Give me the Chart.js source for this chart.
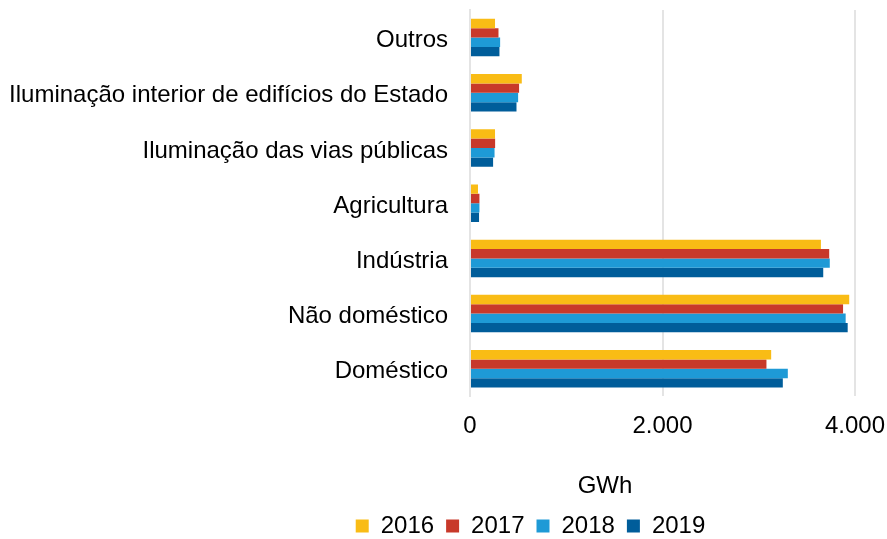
<!DOCTYPE html>
<html>
<head>
<meta charset="utf-8">
<script src="https://cdn.jsdelivr.net/npm/chart.js@4/dist/chart.umd.min.js"></script>
<style>
  html, body { margin: 0; padding: 0; background: #fff; }
  #wrap { width: 887px; height: 539px; }
</style>
</head>
<body>
<div id="wrap"><canvas id="chartConsumo" width="887" height="539"></canvas></div>
<script>
const categories = ['Outros', 'Iluminação interior de edifícios do Estado', 'Iluminação das vias públicas',
  'Agricultura', 'Indústria', 'Não doméstico', 'Doméstico'];
const years = ['2016', '2017', '2018', '2019'];
const values2016 = [260, 538, 260, 83, 3646, 3940, 3129];
const values2017 = [296, 510, 261, 98, 3732, 3876, 3080];
const values2018 = [313, 500, 255, 98, 3738, 3903, 3302];
const values2019 = [306, 483, 240, 94, 3670, 3924, 3250];
const colors = ['#F9BC15', '#C8392A', '#1E9AD6', '#005D9A'];
const xTicks = [0, 2000, 4000];

const FONT = "'Liberation Sans', Arial, sans-serif";
const formatPt = v => String(v).replace(/\B(?=(\d{3})+(?!\d))/g, '.');

// Excel places the axis title and legend off-centre; nudge them after layout
const shiftBoxes = {
  id: 'shiftBoxes',
  afterLayout(chart) {
    const t = chart.titleBlock;
    if (t) {
      const half = (t.right - t.left) / 2;
      t.left = 605 - half; t.right = 605 + half;
      t.top += 11; t.bottom += 11;
    }
    const l = chart.legend;
    if (l) {
      l.left += 98; l.right += 98;
      l.top += 9; l.bottom += 9;
    }
  }
};

const seriesValues = [values2016, values2017, values2018, values2019];
const context = document.getElementById('chartConsumo').getContext('2d');
const chart = new Chart(context, {
  type: 'bar',
  data: {
    labels: categories,
    datasets: years.map((year, i) => ({
      label: year,
      data: seriesValues[i],
      backgroundColor: colors[i],
      borderWidth: 0,
      barPercentage: 1,
      categoryPercentage: 0.68
    }))
  },
  options: {
    indexAxis: 'y',
    responsive: false,
    animation: false,
    layout: { padding: { top: 10, left: 10, right: 32, bottom: 0 } },
    scales: {
      x: {
        min: 0,
        max: 4000,
        afterBuildTicks: scale => { scale.ticks = xTicks.map(v => ({ value: v })); },
        afterFit: scale => { scale.paddingLeft = 0; scale.paddingRight = 0; },
        grid: { color: '#e4e4e4', lineWidth: 2, drawTicks: false },
        border: { display: false },
        ticks: {
          padding: 16,
          color: '#000',
          font: { family: FONT, size: 24 },
          callback: v => formatPt(v)
        }
      },
      y: {
        afterFit: scale => {
          scale.width = 460;
          scale.paddingTop = 0;
          scale.paddingBottom = 0;
        },
        grid: { display: false, drawTicks: false },
        border: { display: true, color: '#e4e4e4', width: 2 },
        ticks: {
          padding: 22,
          labelOffset: 3,
          color: '#000',
          font: { family: FONT, size: 24 }
        }
      }
    },
    plugins: {
      title: {
        display: true,
        text: 'GWh',
        position: 'bottom',
        weight: 500,
        color: '#000',
        font: { family: FONT, size: 24, weight: 'normal' },
        padding: { top: 4, bottom: 3 }
      },
      legend: {
        position: 'bottom',
        labels: {
          color: '#000',
          boxWidth: 13,
          boxHeight: 13,
          padding: 12,
          font: { family: FONT, size: 24 }
        }
      },
      tooltip: { enabled: false }
    }
  },
  plugins: [shiftBoxes]
});
</script>
</body>
</html>
